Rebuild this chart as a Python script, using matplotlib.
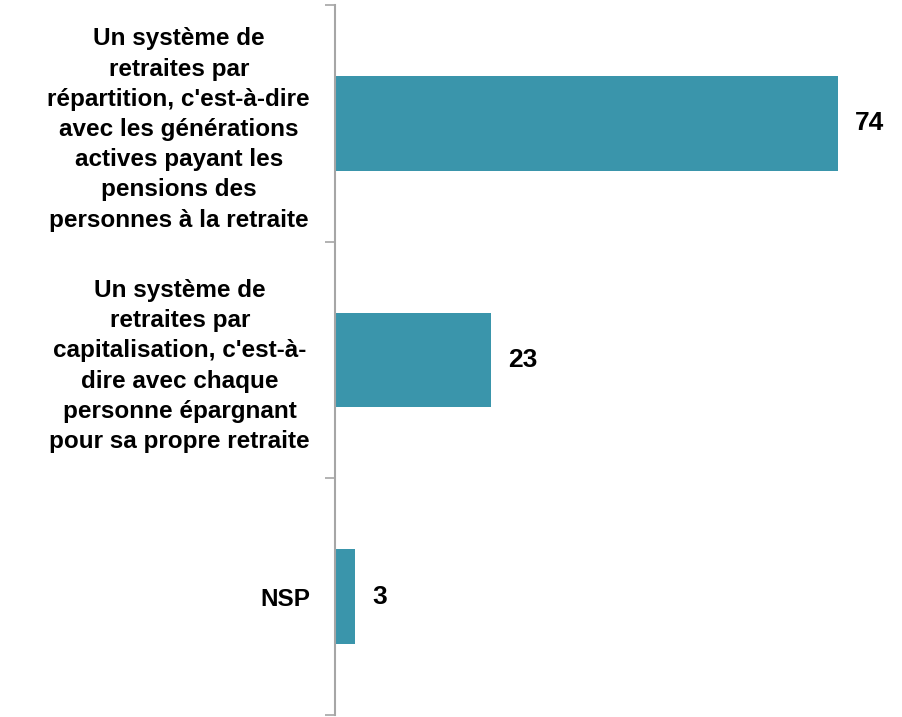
import matplotlib.pyplot as plt
import numpy as np

plt.rcParams["font.family"] = ["Liberation Sans", "DejaVu Sans"]

categories = [
    "Un système de\nretraites par\nrépartition, c'est-à-dire\navec les générations\nactives payant les\npensions des\npersonnes à la retraite",
    "Un système de\nretraites par\ncapitalisation, c'est-à-\ndire avec chaque\npersonne épargnant\npour sa propre retraite",
    "NSP",
]
values = [74, 23, 3]

bar_color = "#3A95AB"
axis_color = "#A6A6A6"

fig = plt.figure(figsize=(9.03, 7.17), dpi=100)
ax = fig.add_axes([0.371, 0.003, 0.602, 0.990])

positions = np.arange(len(values))
ax.barh(positions, values, height=0.4, color=bar_color)

for pos, val in zip(positions, values):
    ax.text(val + 2.5, pos, str(val), va="center", ha="left",
            fontsize=19, fontweight="bold", color="black")

ax.set_xlim(0, 80)
ax.set_ylim(len(values) - 0.5, -0.5)

# boundary ticks between categories, labels at bar centres
ax.set_yticks(np.arange(-0.5, len(values), 1.0))
ax.set_yticklabels([])
ax.tick_params(axis="y", which="major", length=7, width=1.2, color=axis_color)
ax.set_yticks(positions, minor=True)
ax.set_yticklabels(categories, minor=True, fontsize=17.5, fontweight="bold",
                   linespacing=1.4)
for label in ax.get_yticklabels(minor=True):
    label.set_multialignment("center")
ax.tick_params(axis="y", which="minor", length=0, pad=18)

ax.set_xticks([])
for side in ["top", "right", "bottom"]:
    ax.spines[side].set_visible(False)
ax.spines["left"].set_color(axis_color)
ax.spines["left"].set_linewidth(1.5)

fig.savefig("out.png", dpi=100)
